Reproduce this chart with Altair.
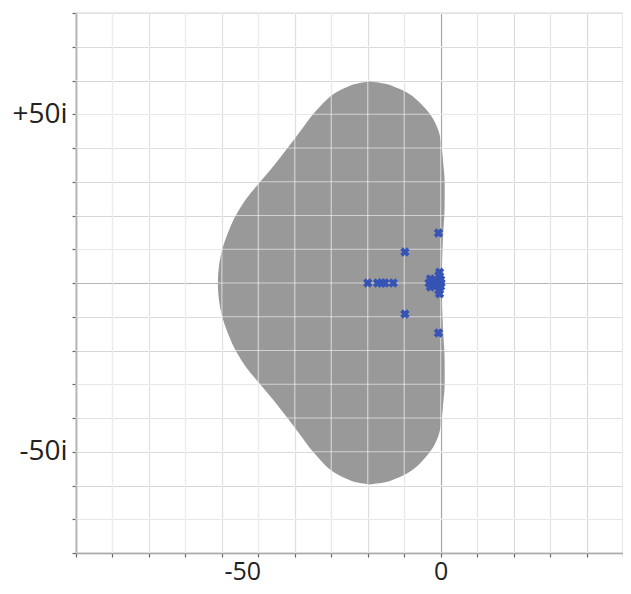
import altair as alt
import pandas as pd

# axis grid / tick positions
x_grid = list(range(-100, 51, 10))
y_grid = list(range(-80, 81, 10))

# stability region, upper half: imaginary part, left and right real boundary
v_upper = [0, 5, 10, 15, 20, 25, 30, 35, 40, 45, 50, 53, 55, 56.5, 58, 59.2, 59.7]
left_upper = [-61.1, -60.8, -59.9, -58.3, -56.2, -53.3, -49.5, -45.6, -42.0, -38.5,
              -35.0, -32.5, -30.6, -28.6, -25.8, -22.5, -19.5]
right_upper = [0.1, 0.3, 0.5, 0.7, 1.0, 1.1, 1.1, 0.75, 0.3, -0.55,
               -2.9, -5.3, -7.3, -9.4, -12.4, -16.0, -19.5]

# eigenvalues (real, imaginary)
eig_re = [-0.6, -9.8, -20.0, -17.3, -16.2, -15.3, -13.0, -9.8, -0.6,
          -3.2, -2.8, -2.8, -2.2, -1.5, -1.5, -0.8, -0.5, -0.5, 0.0, 0.0, 0.1, -0.3, -0.3]
eig_im = [14.8, 9.2, 0.0, 0.0, 0.0, 0.0, 0.0, -9.2, -14.8,
          0.0, 1.2, -1.2, 0.0, 0.5, -0.5, 0.0, 2.2, -2.2, 1.0, -1.0, 0.0, 3.2, -3.2]

rows = []
for v, l, r in zip(reversed(v_upper[1:]), reversed(left_upper[1:]), reversed(right_upper[1:])):
    rows.append({"v": -v, "left": l, "right": r})
for v, l, r in zip(v_upper, left_upper, right_upper):
    rows.append({"v": v, "left": l, "right": r})
shape_df = pd.DataFrame(rows)

eig_df = pd.DataFrame({"re": eig_re, "im": eig_im})
xg_df = pd.DataFrame({"gx": x_grid})
yg_df = pd.DataFrame({"gy": y_grid})

FONT = "Open Sans"
xscale = alt.Scale(domain=[-100, 50], nice=False, zero=False)
yscale = alt.Scale(domain=[-80, 80], nice=False, zero=False)

grid_color = {"condition": {"test": "datum.value == 0", "value": "#999999"}, "value": "#d6d6d6"}

xaxis = alt.Axis(
    values=x_grid, title=None, grid=True, gridColor=grid_color, gridWidth=1.2,
    labelExpr="datum.value == 0 ? '0' : datum.value == -50 ? '-50' : ''",
    labelOffset={"condition": {"test": "datum.value == -50", "value": -16}, "value": 0},
    labelFont=FONT, labelFontSize=25, labelColor="#222222", labelPadding=2,
    tickSize=4, tickColor="#666666", tickWidth=1.2,
    domainColor="#8c8c8c", domainWidth=1.5, labelFlush=False, labelOverlap=False,
)
yaxis = alt.Axis(
    values=y_grid, title=None, grid=True, gridColor=grid_color, gridWidth=1.2,
    labelExpr="datum.value == 50 ? '+50i' : datum.value == -50 ? '-50i' : ''",
    labelFont=FONT, labelFontSize=28, labelColor="#222222", labelPadding=5,
    tickSize=4, tickColor="#666666", tickWidth=1.2,
    domainColor="#8c8c8c", domainWidth=1.5, labelFlush=False, labelOverlap=False,
)

region = alt.Chart(shape_df).mark_area(
    orient="horizontal", interpolate="monotone", color="#999999", opacity=1
).encode(
    y=alt.Y("v:Q", scale=yscale, axis=yaxis),
    x=alt.X("left:Q", scale=xscale, axis=xaxis),
    x2="right:Q",
)

vgrid = alt.Chart(xg_df).mark_rule(color="white", opacity=0.55, strokeWidth=1.2).encode(
    x=alt.X("gx:Q", scale=xscale, axis=xaxis)
)
hgrid = alt.Chart(yg_df).mark_rule(color="white", opacity=0.55, strokeWidth=1.2).encode(
    y=alt.Y("gy:Q", scale=yscale, axis=yaxis)
)

points = alt.Chart(eig_df).mark_point(
    shape="cross", angle=45, filled=True, size=90, color="#3654b5", opacity=1
).encode(
    x=alt.X("re:Q", scale=xscale, axis=xaxis),
    y=alt.Y("im:Q", scale=yscale, axis=yaxis),
)

chart = alt.layer(region, vgrid, hgrid, points).properties(
    width=547, height=540,
    autosize=alt.AutoSizeParams(type="none"),
    padding={"left": 68, "top": 5, "right": 0, "bottom": 32},
    background="white",
).configure_view(stroke="#8c8c8c", strokeWidth=1.2)

chart.save("out.html", embed_options={"renderer": "svg", "actions": False})
